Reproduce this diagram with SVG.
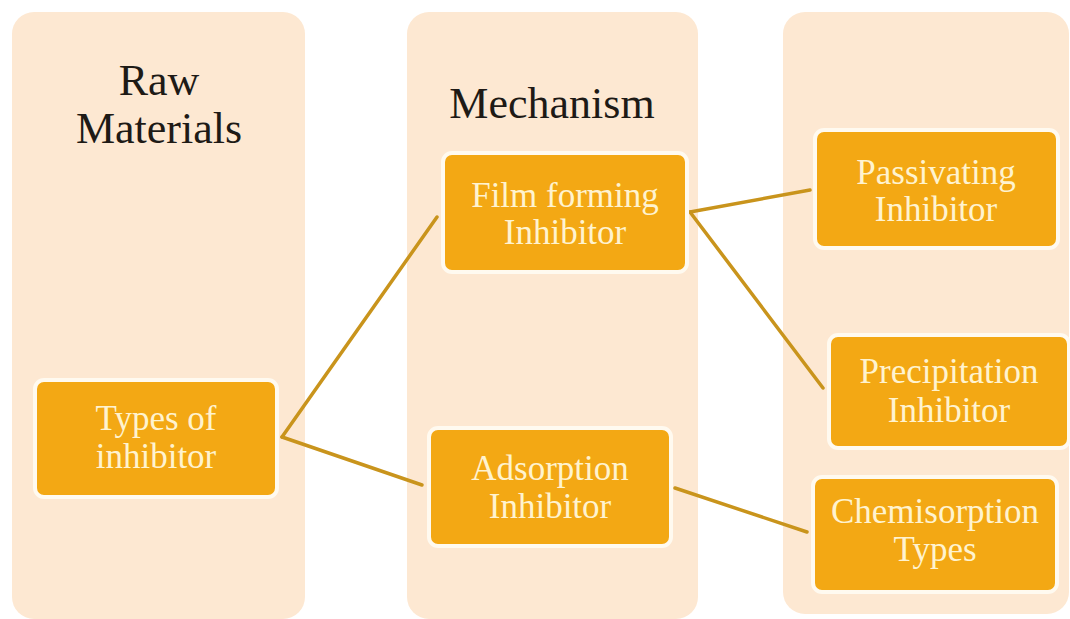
<svg xmlns="http://www.w3.org/2000/svg" width="1070" height="619" viewBox="0 0 1070 619">
<style>
.panel{fill:#fde8d2}
.box{fill:#f3a814;stroke:#fffaf0;stroke-width:4}
.title{font-family:"Liberation Serif","Times New Roman",serif;font-size:44px;fill:#1e1a16;text-anchor:middle}
.lbl{font-family:"Liberation Serif","Times New Roman",serif;font-size:35px;fill:#fff3cf;text-anchor:middle}
.conn{stroke:#c9941c;stroke-width:3.5;fill:none;stroke-linecap:round}
</style>
<rect width="1070" height="619" fill="#ffffff"/>
<g id="panel-raw">
<rect class="panel" x="12" y="12" width="293" height="607" rx="22"/>
<text class="title" x="159" y="95">Raw</text>
<text class="title" x="159" y="143">Materials</text>
</g>
<g id="panel-mechanism">
<rect class="panel" x="407" y="12" width="291" height="607" rx="22"/>
<text class="title" x="552" y="118">Mechanism</text>
</g>
<g id="panel-types">
<rect class="panel" x="783" y="12" width="286" height="602" rx="22"/>
</g>
<g id="connectors">
<line class="conn" x1="282" y1="437" x2="437" y2="217"/>
<line class="conn" x1="282" y1="437" x2="422" y2="485"/>
<line class="conn" x1="690" y1="212" x2="810" y2="190"/>
<line class="conn" x1="690" y1="212" x2="823" y2="388"/>
<line class="conn" x1="675" y1="488" x2="807" y2="532"/>
</g>
<g id="types-of-inhibitor">
<rect class="box" x="35" y="380" width="242" height="117" rx="9"/>
<text class="lbl" x="156" y="430">Types of</text>
<text class="lbl" x="156" y="468">inhibitor</text>
</g>
<g id="film-forming-inhibitor">
<rect class="box" x="443" y="153" width="244" height="119" rx="9"/>
<text class="lbl" x="565" y="207">Film forming</text>
<text class="lbl" x="565" y="244">Inhibitor</text>
</g>
<g id="adsorption-inhibitor">
<rect class="box" x="429" y="428" width="242" height="118" rx="9"/>
<text class="lbl" x="550" y="480">Adsorption</text>
<text class="lbl" x="550" y="518">Inhibitor</text>
</g>
<g id="passivating-inhibitor">
<rect class="box" x="815" y="130" width="243" height="118" rx="9"/>
<text class="lbl" x="936" y="184">Passivating</text>
<text class="lbl" x="936" y="221">Inhibitor</text>
</g>
<g id="precipitation-inhibitor">
<rect class="box" x="829" y="335" width="240" height="113" rx="9"/>
<text class="lbl" x="949" y="383">Precipitation</text>
<text class="lbl" x="949" y="422">Inhibitor</text>
</g>
<g id="chemisorption-types">
<rect class="box" x="813" y="477" width="244" height="115" rx="9"/>
<text class="lbl" x="935" y="523">Chemisorption</text>
<text class="lbl" x="935" y="561">Types</text>
</g>
</svg>
